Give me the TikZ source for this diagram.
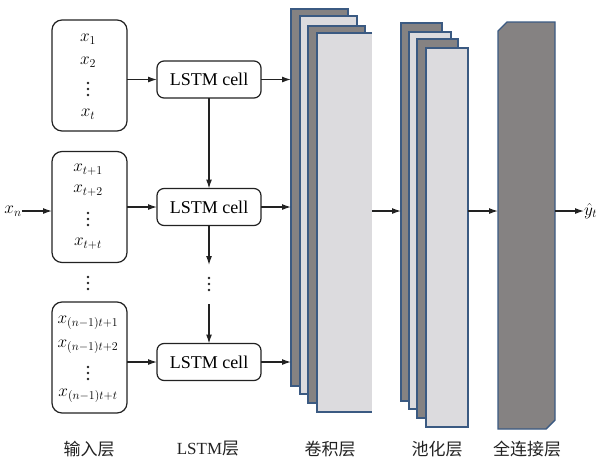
\documentclass[tikz,border=0pt]{standalone}
\usepackage{fontspec}
\setmainfont{Liberation Serif}
\newfontfamily\serifx{Liberation Serif}
\newfontfamily\cjk{Noto Sans CJK SC}
\usetikzlibrary{arrows.meta}
\definecolor{darkfill}{HTML}{858282}
\definecolor{lightfill}{HTML}{DCDBDE}
\definecolor{edgeblue}{HTML}{3B5A82}
\definecolor{linegray}{HTML}{222222}
\tikzset{
  inbox/.style={draw=linegray, line width=1.2pt, rounded corners=10pt, minimum width=75, minimum height=111, inner sep=0, outer sep=0},
  cellbox/.style={draw=linegray, line width=1.2pt, rounded corners=7pt, minimum width=104, minimum height=37, inner sep=0, outer sep=0, font=\serifx\fontsize{18}{21}\selectfont},
  arr/.style={draw=linegray, line width=1.2pt, -{Latex[length=9pt,width=6pt]}},
  mathtxt/.style={inner sep=0, font=\fontsize{17}{20}\selectfont},
  darkrect/.style={fill=darkfill, draw=edgeblue, line width=1.4pt, inner sep=0, outer sep=0, anchor=north west},
  lightrect/.style={fill=lightfill, draw=edgeblue, line width=1.4pt, inner sep=0, outer sep=0, anchor=north west},
  labeltxt/.style={inner sep=0, font=\cjk\fontsize{17}{20}\selectfont, text=linegray},
  dotc/.style={fill=linegray},
}
\newcommand{\dotstack}[2]{%
  \fill[dotc] (#1,#2-6) circle (1.4pt);
  \fill[dotc] (#1,#2) circle (1.4pt);
  \fill[dotc] (#1,#2+6) circle (1.4pt);}
\begin{document}
\begin{tikzpicture}[x=1pt,y=-1pt]
\useasboundingbox (0,0) rectangle (597,461);
% input boxes
\node[inbox] (in1) at (89.5,75.5) {};
\node[inbox] (in2) at (89.5,207) {};
\node[inbox] (in3) at (89.5,357.5) {};
\node[mathtxt] (a1) at (88,39) {$x_1$};
\node[mathtxt] (a2) at (88,62) {$x_2$};
\dotstack{88}{89}
\node[mathtxt] (a4) at (88,114) {$x_t$};
\node[mathtxt] (b1) at (88,170) {$x_{t+1}$};
\node[mathtxt] (b2) at (88,191) {$x_{t+2}$};
\dotstack{88}{219}
\node[mathtxt] (b4) at (88,244) {$x_{t+t}$};
\dotstack{88}{283}
\node[mathtxt] (e1) at (88,323) {$x_{(n-1)t+1}$};
\node[mathtxt] (e2) at (88,347) {$x_{(n-1)t+2}$};
\dotstack{88}{373}
\node[mathtxt] (e4) at (88,396) {$x_{(n-1)t+t}$};
\node[mathtxt] (xn) at (13,211) {$x_n$};
% LSTM cells
\node[cellbox] (c1) at (209,79.5) {LSTM cell};
\node[cellbox] (c2) at (209,207) {LSTM cell};
\node[cellbox] (c3) at (209,362) {LSTM cell};
\dotstack{209}{284}
\coordinate (v1) at (209,265);
\coordinate (v2) at (209,304);
% conv layer
\node[darkrect, minimum width=57, minimum height=377] (cv1) at (291,9) {};
\node[lightrect, minimum width=57, minimum height=378] (cv2) at (300,16) {};
\node[darkrect, minimum width=57, minimum height=377] (cv3) at (308,26) {};
\node[fill=lightfill, inner sep=0, outer sep=0, anchor=north west, minimum width=55, minimum height=379] (cv4) at (317,33) {};
\draw[edgeblue, line width=1.4pt] (cv4.north east) -- (cv4.north west) -- (cv4.south west) -- (cv4.south east);
% pooling layer
\node[darkrect, minimum width=41, minimum height=378] (pl1) at (401,23) {};
\node[lightrect, minimum width=42, minimum height=377] (pl2) at (409,32) {};
\node[darkrect, minimum width=41, minimum height=379] (pl3) at (417,39) {};
\node[lightrect, minimum width=42, minimum height=379] (pl4) at (426,48) {};
% fully connected
\coordinate (fcA) at (498,31);
\coordinate (fcB) at (507,22);
\coordinate (fcC) at (555,22);
\coordinate (fcD) at (555,420);
\coordinate (fcE) at (546,429);
\coordinate (fcF) at (498,429);
\draw[fill=darkfill, draw=edgeblue, line width=1.4pt] (fcA) -- (fcB) -- (fcC) -- (fcD) -- (fcE) -- (fcF) -- cycle;
\coordinate (mid) at (0,211);
\node[mathtxt, anchor=west] (yh) at (584,211) {$\hat{y}_t$};
% connectors
\draw[arr] (in1.east |- c1) -- (c1.west);
\draw[arr] (in2.east |- c2) -- (c2.west);
\draw[arr] (in3.east |- c3) -- (c3.west);
\draw[arr] (xn.east) -- (in2.west |- xn);
\draw[arr] (c1.south) -- (c2.north);
\draw[arr] (c2.south) -- (v1);
\draw[arr] (v2) -- (c3.north);
\draw[arr] (c1.east) -- (c1.east -| cv1.west);
\draw[arr] (c2.east) -- (c2.east -| cv1.west);
\draw[arr] (c3.east) -- (c3.east -| cv1.west);
\draw[arr] (cv4.east |- mid) -- (pl1.west |- mid);
\draw[arr] (pl4.east |- mid) -- (fcA |- mid);
\draw[arr] (fcC |- mid) -- (yh.west);
% labels
\node[labeltxt] (l1) at (89,449) {输入层};
\node[labeltxt] (l2) at (208,449) {{\serifx LSTM}层};
\node[labeltxt] (l3) at (330,449) {卷积层};
\node[labeltxt] (l4) at (437,449) {池化层};
\node[labeltxt] (l5) at (527,449) {全连接层};
\end{tikzpicture}
\end{document}
